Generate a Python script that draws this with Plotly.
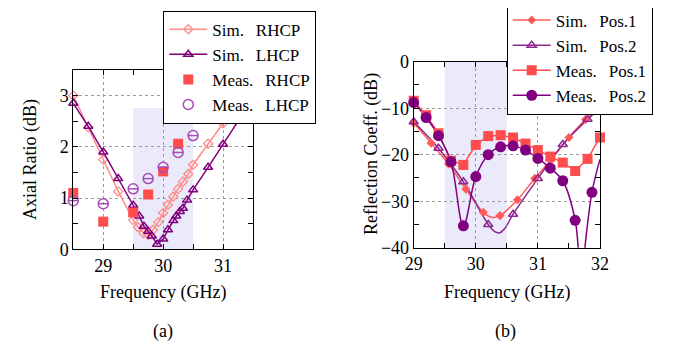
import plotly.graph_objects as go

# ---------------- (a) Axial ratio data ----------------
ar_sim_rhcp_f = [28.5, 28.75, 29.0, 29.25, 29.5, 29.58, 29.67, 29.75, 29.83, 29.92, 30.0,
                 30.08, 30.17, 30.25, 30.33, 30.42, 30.5, 30.75, 31.0, 31.25, 31.5]
ar_sim_rhcp = [3.0, 2.38, 1.75, 1.13, 0.57, 0.43, 0.32, 0.28, 0.38, 0.53, 0.71,
               0.87, 1.03, 1.18, 1.32, 1.47, 1.65, 2.06, 2.46, 2.86, 3.26]
ar_sim_lhcp_f = [28.5, 28.75, 29.0, 29.25, 29.5, 29.6, 29.68, 29.75, 29.81, 29.9, 30.0,
                 30.08, 30.17, 30.22, 30.28, 30.33, 30.4, 30.5, 30.75, 31.0, 31.25, 31.5]
ar_sim_lhcp = [2.85, 2.4, 1.9, 1.38, 0.86, 0.65, 0.45, 0.35, 0.26, 0.1, 0.2,
               0.38, 0.56, 0.65, 0.74, 0.8, 0.96, 1.16, 1.6, 2.05, 2.5, 2.95]
ar_meas_f = [28.5, 29.0, 29.5, 29.75, 30.0, 30.25, 30.5]
ar_meas_rhcp = [1.1, 0.54, 0.72, 1.07, 1.52, 2.06, 2.62]
ar_meas_lhcp = [0.95, 0.89, 1.18, 1.38, 1.6, 1.89, 2.22]

# ---------------- (b) Reflection coefficient data ----------------
s_sim1_f = [29.0, 29.28, 29.56, 29.84, 30.12, 30.39, 30.67, 30.95, 31.22, 31.5, 31.77]
s_sim1 = [-13.2, -17.5, -22.0, -27.4, -32.4, -33.1, -29.7, -25.1, -21.0, -16.3, -12.4]
s_sim1_extra_f = [30.27, 32.0]
s_sim1_extra = [-33.5, -10.0]

s_sim2_f = [29.0, 29.4, 29.8, 30.2, 30.6, 31.0, 31.4, 31.8]
s_sim2 = [-12.9, -18.6, -25.8, -35.0, -32.8, -25.1, -17.8, -12.4]
s_sim2_extra_f = [30.3, 30.38, 30.47, 32.0]
s_sim2_extra = [-36.5, -36.8, -35.8, -10.0]

s_meas1_f = [29.0, 29.2, 29.4, 29.6, 29.8, 30.0, 30.2, 30.4, 30.6, 30.8, 31.0, 31.2, 31.4, 31.6, 31.8, 32.0]
s_meas1 = [-8.4, -11.5, -15.4, -21.3, -22.2, -17.9, -16.0, -15.8, -16.3, -17.6, -19.0, -20.4, -21.7, -23.5, -20.9, -16.3]

s_meas2_f = [29.0, 29.2, 29.4, 29.6, 29.8, 30.0, 30.2, 30.4, 30.6, 30.8, 31.0, 31.2, 31.4, 31.6, 31.87]
s_meas2 = [-8.8, -12.0, -15.9, -21.5, -35.3, -24.7, -20.0, -18.3, -18.1, -19.0, -20.8, -22.9, -25.6, -34.1, -28.1]
s_meas2_extra_f = [31.66, 31.7, 31.74, 32.0]
s_meas2_extra = [-42.0, -47.0, -42.0, -21.0]

band_lo, band_hi = 29.5, 30.5
ar_band_top = 2.76

RED = "#FF4D4D"
RED2 = "#FF5A5A"
LRED = "#FF8C8C"
PURPLE = "#800080"
LPURPLE = "#A54CB5"
PURPLE2 = "#8E2590"
SHADE = "#EAEAFA"
FONT = "Liberation Serif, Times New Roman, serif"
FS = 18
LFS = 17


def merged(f1, y1, f2, y2):
    pts = sorted(zip(list(f1) + list(f2), list(y1) + list(y2)))
    return [p[0] for p in pts], [p[1] for p in pts]


fig = go.Figure()
SP = "\u2002\u2009"

# ---- (a) ----
fig.add_trace(go.Scatter(x=ar_sim_rhcp_f, y=ar_sim_rhcp, mode="lines+markers", name="Sim." + SP + "RHCP",
                         line=dict(color=LRED, width=1.5),
                         marker=dict(symbol="diamond-open", size=7, color=LRED, line=dict(width=1.3)),
                         xaxis="x", yaxis="y", legend="legend", cliponaxis=False))
fig.add_trace(go.Scatter(x=ar_sim_lhcp_f, y=ar_sim_lhcp, mode="lines+markers", name="Sim." + SP + "LHCP",
                         line=dict(color=PURPLE, width=1.5),
                         marker=dict(symbol="triangle-up-open", size=8, color=PURPLE, line=dict(width=1.5)),
                         xaxis="x", yaxis="y", legend="legend", cliponaxis=False))
fig.add_trace(go.Scatter(x=ar_meas_f, y=ar_meas_rhcp, mode="markers", name="Meas." + SP + "RHCP",
                         marker=dict(symbol="square", size=10, color=RED),
                         xaxis="x", yaxis="y", legend="legend", cliponaxis=False))
fig.add_trace(go.Scatter(x=ar_meas_f, y=ar_meas_lhcp, mode="markers", name="Meas." + SP + "LHCP",
                         marker=dict(symbol="circle-open", size=10, color=LPURPLE, line=dict(width=1.5)),
                         xaxis="x", yaxis="y", legend="legend", legendgroup="ml", cliponaxis=False))
fig.add_trace(go.Scatter(x=ar_meas_f, y=ar_meas_lhcp, mode="markers", showlegend=False,
                         marker=dict(symbol="line-ew-open", size=7, color=LPURPLE, line=dict(width=1.5, color=LPURPLE)),
                         xaxis="x", yaxis="y", legendgroup="ml", cliponaxis=False, hoverinfo="skip"))

# ---- (b) ----
f1, y1 = merged(s_sim1_f, s_sim1, s_sim1_extra_f, s_sim1_extra)
f2, y2 = merged(s_sim2_f, s_sim2, s_sim2_extra_f, s_sim2_extra)
f4, y4 = merged(s_meas2_f, s_meas2, s_meas2_extra_f, s_meas2_extra)

sty = {
    "sim1": dict(line=dict(color=RED2, width=1.5, shape="spline"),
                 marker=dict(symbol="diamond", size=7, color=RED2)),
    "sim2": dict(line=dict(color=PURPLE2, width=1.5, shape="spline"),
                 marker=dict(symbol="triangle-up-open", size=8, color=PURPLE2, line=dict(width=1.5))),
    "meas1": dict(line=dict(color=RED, width=1.5),
                  marker=dict(symbol="square", size=10, color=RED)),
    "meas2": dict(line=dict(color=PURPLE, width=1.5, shape="spline"),
                  marker=dict(symbol="circle", size=11, color=PURPLE)),
}

fig.add_trace(go.Scatter(x=f1, y=y1, mode="lines", line=sty["sim1"]["line"], showlegend=False,
                         xaxis="x2", yaxis="y2"))
fig.add_trace(go.Scatter(x=f2, y=y2, mode="lines", line=sty["sim2"]["line"], showlegend=False,
                         xaxis="x2", yaxis="y2"))
fig.add_trace(go.Scatter(x=s_meas1_f, y=s_meas1, mode="lines", line=sty["meas1"]["line"], showlegend=False,
                         xaxis="x2", yaxis="y2"))
fig.add_trace(go.Scatter(x=f4, y=y4, mode="lines", line=sty["meas2"]["line"], showlegend=False,
                         xaxis="x2", yaxis="y2"))
for key, fx, fy in [("sim1", s_sim1_f, s_sim1), ("sim2", s_sim2_f, s_sim2),
                    ("meas1", s_meas1_f, s_meas1), ("meas2", s_meas2_f, s_meas2)]:
    fig.add_trace(go.Scatter(x=fx, y=fy, mode="markers", marker=sty[key]["marker"], showlegend=False,
                             xaxis="x2", yaxis="y2", cliponaxis=False))
for key, name in [("sim1", "Sim." + SP + "Pos.1"), ("sim2", "Sim." + SP + "Pos.2"),
                  ("meas1", "Meas." + SP + "Pos.1"), ("meas2", "Meas." + SP + "Pos.2")]:
    fig.add_trace(go.Scatter(x=[None], y=[None], mode="lines+markers", name=name,
                             line=dict(color=sty[key]["line"]["color"], width=1.5),
                             marker=sty[key]["marker"], xaxis="x2", yaxis="y2", legend="legend2"))

W, H = 684, 345
OFF = 8  # page body margin of the browser


def xp(px):
    return (px - OFF) / W


def yp(py):
    return 1 - (py - OFF) / H


axis_common = dict(showline=True, linecolor="black", linewidth=1, mirror="ticks",
                   ticks="inside", ticklen=5, tickcolor="black", tickwidth=1,
                   showgrid=True, gridcolor="#9A9A9A", griddash="dot", gridwidth=1,
                   zeroline=False, automargin=False,
                   tickfont=dict(family=FONT, size=FS, color="black"))


def minor(d):
    return dict(dtick=d, ticks="inside", ticklen=5, tickcolor="black", tickwidth=1, showgrid=False)


fig.update_layout(
    width=W, height=H, margin=dict(l=0, r=0, t=0, b=0, autoexpand=False),
    paper_bgcolor="white", plot_bgcolor="white",
    font=dict(family=FONT, size=FS, color="black"),
    xaxis=dict(domain=[xp(73.3), xp(253)], range=[28.5, 31.5], dtick=1, tick0=29,
               anchor="y", minor=minor(0.5), **axis_common),
    yaxis=dict(domain=[yp(249.3), yp(70)], range=[0, 3.5], dtick=1, tick0=0,
               anchor="x", minor=minor(0.5), **axis_common),
    xaxis2=dict(domain=[xp(413.7), xp(600)], range=[29, 32], dtick=1, tick0=29,
                anchor="y2", minor=minor(0.5), **axis_common),
    yaxis2=dict(domain=[yp(247.7), yp(61.7)], range=[-40, 0], dtick=10, tick0=0,
                anchor="x2", minor=minor(5), **axis_common),
    legend=dict(x=xp(163.3), y=yp(10.7), xanchor="left", yanchor="top",
                bgcolor="white", bordercolor="black", borderwidth=1,
                font=dict(family=FONT, size=LFS), tracegroupgap=0, itemwidth=38),
    legend2=dict(x=xp(506.7), y=yp(1.5), xanchor="left", yanchor="top",
                 bgcolor="white", bordercolor="black", borderwidth=1,
                 font=dict(family=FONT, size=LFS), tracegroupgap=0, itemwidth=38),
    showlegend=True,
)

fig.add_shape(type="rect", xref="x", yref="y", x0=band_lo, x1=band_hi, y0=0, y1=ar_band_top,
              fillcolor=SHADE, line=dict(width=0), layer="below")
fig.add_shape(type="rect", xref="x2", yref="y2 domain", x0=band_lo, x1=band_hi, y0=0, y1=1,
              fillcolor=SHADE, line=dict(width=0), layer="below")

ann = dict(xref="paper", yref="paper", showarrow=False, xanchor="center", yanchor="middle",
           font=dict(family=FONT, size=FS, color="black"))
fig.add_annotation(text="Axial Ratio (dB)", x=xp(30), y=yp(160), textangle=-90, **ann)
fig.add_annotation(text="Reflection Coeff. (dB)", x=xp(372), y=yp(154), textangle=-90, **ann)
fig.add_annotation(text="Frequency (GHz)", x=xp(162.5), y=yp(292), **ann)
fig.add_annotation(text="Frequency (GHz)", x=xp(506.7), y=yp(292), **ann)
fig.add_annotation(text="(a)", x=xp(163), y=yp(331), **ann)
fig.add_annotation(text="(b)", x=xp(505), y=yp(331), **ann)

fig.write_html("out.html")
